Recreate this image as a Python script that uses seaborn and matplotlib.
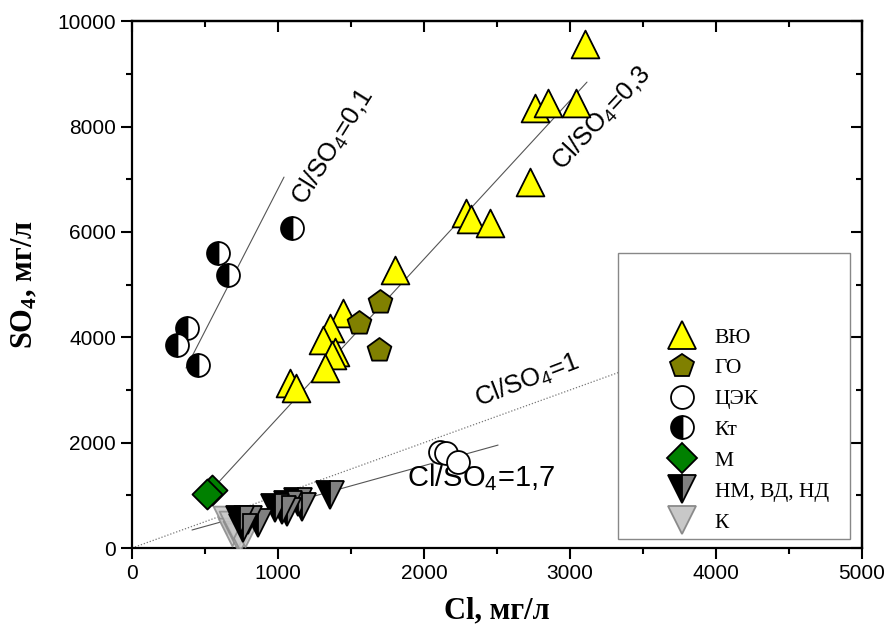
import numpy as np
import pandas as pd
import matplotlib
matplotlib.use("Agg")
import matplotlib.pyplot as plt
import seaborn as sns
from matplotlib.lines import Line2D
from matplotlib.patches import Rectangle
from matplotlib.ticker import MultipleLocator

# ВЮ
vyu_cl = [3103, 2760, 2849, 3041, 2726, 2288, 2322, 2452, 1801, 1445, 1356, 1308, 1390, 1370, 1322, 1082, 1123]
vyu_so4 = [9564, 8349, 8444, 8444, 6945, 6357, 6243, 6167, 5275, 4459, 4175, 3947, 3719, 3662, 3416, 3131, 3036]
# ГО
go_cl = [1699, 1555, 1692]
go_so4 = [4668, 4269, 3757]
# ЦЭК
cek_cl = [2110, 2151, 2233]
cek_so4 = [1822, 1803, 1632]
# Кт
kt_cl = [1096, 589, 658, 377, 308, 452]
kt_so4 = [6072, 5598, 5180, 4175, 3852, 3472]
# М
m_cl = [548, 514]
m_so4 = [1101, 1025]
# НМ, ВД, НД
nm_cl = [1356, 1137, 1068, 1164, 979, 1062, 1027, 863, 795, 740, 760]
nm_so4 = [1006, 873, 816, 778, 759, 683, 721, 474, 531, 531, 379]
# К
k_cl = [651, 685, 719, 740, 774, 692]
k_so4 = [531, 304, 247, 209, 285, 436]

# trend lines (end points)
line01_cl = [370, 1041]
line01_so4 = [3416, 7040]
line03_cl = [530, 3116]
line03_so4 = [1060, 8843]
line1_cl = [0, 4200]
line1_so4 = [0, 4200]
line17_cl = [411, 2507]
line17_so4 = [342, 1954]

labels = ["ВЮ", "ГО", "ЦЭК", "Кт", "М", "НМ, ВД, НД", "К"]

sns.set_style("ticks", rc={"text.color": "black", "axes.edgecolor": "black",
                           "axes.labelcolor": "black", "xtick.color": "black",
                           "ytick.color": "black"})
plt.rcParams["font.family"] = ["Liberation Sans", "DejaVu Sans"]
plt.rcParams["mathtext.default"] = "regular"

fig = plt.figure(figsize=(8.86, 6.31), dpi=100)
ax = fig.add_axes([0.149, 0.1315, 0.824, 0.835])

lw_edge = 1.3
# lines
sns.lineplot(x=line01_cl, y=line01_so4, ax=ax, color="#555555", lw=0.8, estimator=None, sort=False)
sns.lineplot(x=line03_cl, y=line03_so4, ax=ax, color="#555555", lw=0.8, estimator=None, sort=False)
sns.lineplot(x=line1_cl, y=line1_so4, ax=ax, color="#777777", lw=0.9, ls=(0, (1, 1.5)), estimator=None, sort=False)
sns.lineplot(x=line17_cl, y=line17_so4, ax=ax, color="#555555", lw=0.8, estimator=None, sort=False)

# points
sns.scatterplot(x=k_cl, y=k_so4, ax=ax, marker="v", s=400, color="#c8c8c8",
                edgecolor="#8a8a8a", linewidth=lw_edge, alpha=0.85, zorder=3)
sns.lineplot(x=nm_cl, y=nm_so4, ax=ax, estimator=None, sort=False, linestyle="",
             marker="v", ms=20, fillstyle="left", color="black", markerfacecolor="black",
             markerfacecoloralt="#808080", markeredgecolor="black", markeredgewidth=lw_edge, zorder=4)
sns.scatterplot(x=m_cl, y=m_so4, ax=ax, marker="D", s=234, color="#008000",
                edgecolor="black", linewidth=lw_edge, zorder=4)
sns.scatterplot(x=cek_cl, y=cek_so4, ax=ax, marker="o", s=272, color="white",
                edgecolor="black", linewidth=lw_edge, zorder=4)
sns.lineplot(x=kt_cl, y=kt_so4, ax=ax, estimator=None, sort=False, linestyle="",
             marker="o", ms=16.5, fillstyle="left", color="black", markerfacecolor="black",
             markerfacecoloralt="white", markeredgecolor="black", markeredgewidth=lw_edge, zorder=4)
sns.scatterplot(x=vyu_cl, y=vyu_so4, ax=ax, marker="^", s=400, color="#ffff00",
                edgecolor="black", linewidth=lw_edge, zorder=4)
sns.scatterplot(x=go_cl, y=go_so4, ax=ax, marker="p", s=324, color="#808000",
                edgecolor="black", linewidth=lw_edge, zorder=5)

# annotations
tkw = dict(family=["Liberation Sans", "DejaVu Sans"], ha="center", va="center",
           rotation_mode="anchor")
ax.text(1377, 7609, "Cl/SO$_4$=0,1", rotation=58, fontsize=18.5, **tkw)
ax.text(3220, 8140, "Cl/SO$_4$=0,3", rotation=47, fontsize=18.5, **tkw)
ax.text(2705, 3170, "Cl/SO$_4$=1", rotation=21, fontsize=18.5, **tkw)
ax.text(2390, 1328, "Cl/SO$_4$=1,7", rotation=0, fontsize=21, **tkw)

ax.set_xlim(0, 5000)
ax.set_ylim(0, 10000)
ax.xaxis.set_major_locator(MultipleLocator(1000))
ax.xaxis.set_minor_locator(MultipleLocator(500))
ax.yaxis.set_major_locator(MultipleLocator(2000))
ax.yaxis.set_minor_locator(MultipleLocator(1000))
ax.tick_params(which="both", direction="out", width=1.5, labelsize=15, top=False, right=False)
ax.tick_params(which="major", length=8)
ax.tick_params(which="minor", length=4.5)
for sp in ax.spines.values():
    sp.set_linewidth(1.6)
    sp.set_visible(True)

sec_x = ax.secondary_xaxis("top")
sec_x.xaxis.set_major_locator(MultipleLocator(1000))
sec_x.xaxis.set_minor_locator(MultipleLocator(500))
sec_x.tick_params(which="both", direction="in", width=1.5, labeltop=False)
sec_x.tick_params(which="major", length=8)
sec_x.tick_params(which="minor", length=4.5)
sec_x.spines["top"].set_linewidth(1.6)
sec_y = ax.secondary_yaxis("right")
sec_y.yaxis.set_major_locator(MultipleLocator(2000))
sec_y.yaxis.set_minor_locator(MultipleLocator(1000))
sec_y.tick_params(which="both", direction="in", width=1.5, labelright=False)
sec_y.tick_params(which="major", length=8)
sec_y.tick_params(which="minor", length=4.5)
sec_y.spines["right"].set_linewidth(1.6)

lab_kw = dict(fontsize=22, fontweight="bold", family=["Liberation Serif", "DejaVu Serif"])
ax.set_xlabel("Cl, мг/л", labelpad=10, **lab_kw)
ax.set_ylabel("SO$_4$, мг/л", labelpad=13, **lab_kw)

# legend box
box = Rectangle((0.666, 0.017), 0.318, 0.543, transform=ax.transAxes, facecolor="white",
                edgecolor="#888888", lw=1.0, zorder=6)
ax.add_patch(box)
handles = [
    Line2D([], [], ls="", marker="^", ms=20, mfc="#ffff00", mec="black", mew=lw_edge),
    Line2D([], [], ls="", marker="p", ms=18, mfc="#808000", mec="black", mew=lw_edge),
    Line2D([], [], ls="", marker="o", ms=16.5, mfc="white", mec="black", mew=lw_edge),
    Line2D([], [], ls="", marker="o", ms=16.5, fillstyle="left", mfc="black",
           markerfacecoloralt="white", mec="black", mew=lw_edge),
    Line2D([], [], ls="", marker="D", ms=15.3, mfc="#008000", mec="black", mew=lw_edge),
    Line2D([], [], ls="", marker="v", ms=20, fillstyle="left", mfc="black",
           markerfacecoloralt="#808080", mec="black", mew=lw_edge),
    Line2D([], [], ls="", marker="v", ms=20, mfc="#c8c8c8", mec="#8a8a8a", mew=lw_edge),
]
leg = ax.legend(handles, labels, loc="upper left", bbox_to_anchor=(0.7215, 0.435), frameon=False,
                prop=dict(family="Liberation Serif", size=15.5), labelspacing=0.5,
                handlelength=1.4, handletextpad=0.8, borderaxespad=0)
leg.set_zorder(7)

fig.savefig("out.png", dpi=100)
